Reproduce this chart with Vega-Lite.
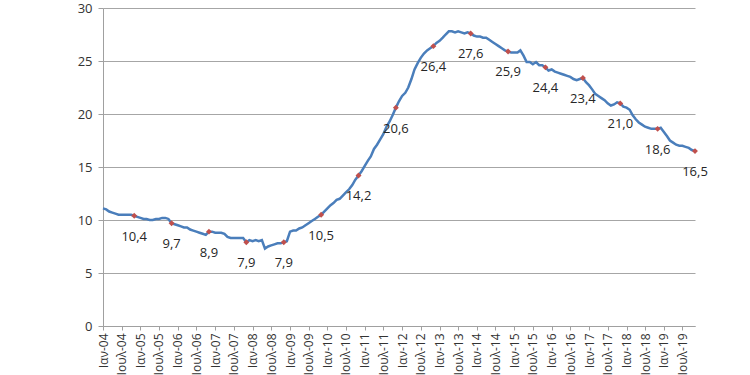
{
  "$schema": "https://vega.github.io/schema/vega-lite/v6.json",
  "width": 592,
  "height": 318,
  "autosize": {"type": "none"},
  "padding": {"left": 103, "top": 8, "right": 55, "bottom": 49},
  "background": "white",
  "config": {"view": {"stroke": null}, "font": "Open Sans"},
  "data": {"values": [
    {"date": "2004-01-01", "rate": 11.1}, {"date": "2004-02-01", "rate": 11.0}, {"date": "2004-03-01", "rate": 10.8}, {"date": "2004-04-01", "rate": 10.7}, {"date": "2004-05-01", "rate": 10.6}, {"date": "2004-06-01", "rate": 10.5}, {"date": "2004-07-01", "rate": 10.5}, {"date": "2004-08-01", "rate": 10.5}, {"date": "2004-09-01", "rate": 10.5}, {"date": "2004-10-01", "rate": 10.5}, {"date": "2004-11-01", "rate": 10.4, "label": "10,4"}, {"date": "2004-12-01", "rate": 10.3},
    {"date": "2005-01-01", "rate": 10.2}, {"date": "2005-02-01", "rate": 10.1}, {"date": "2005-03-01", "rate": 10.1}, {"date": "2005-04-01", "rate": 10.0}, {"date": "2005-05-01", "rate": 10.0}, {"date": "2005-06-01", "rate": 10.1}, {"date": "2005-07-01", "rate": 10.1}, {"date": "2005-08-01", "rate": 10.2}, {"date": "2005-09-01", "rate": 10.2}, {"date": "2005-10-01", "rate": 10.1}, {"date": "2005-11-01", "rate": 9.7, "label": "9,7"}, {"date": "2005-12-01", "rate": 9.6},
    {"date": "2006-01-01", "rate": 9.5}, {"date": "2006-02-01", "rate": 9.4}, {"date": "2006-03-01", "rate": 9.3}, {"date": "2006-04-01", "rate": 9.3}, {"date": "2006-05-01", "rate": 9.1}, {"date": "2006-06-01", "rate": 9.0}, {"date": "2006-07-01", "rate": 8.9}, {"date": "2006-08-01", "rate": 8.8}, {"date": "2006-09-01", "rate": 8.7}, {"date": "2006-10-01", "rate": 8.6}, {"date": "2006-11-01", "rate": 8.9, "label": "8,9"}, {"date": "2006-12-01", "rate": 8.9},
    {"date": "2007-01-01", "rate": 8.8}, {"date": "2007-02-01", "rate": 8.8}, {"date": "2007-03-01", "rate": 8.8}, {"date": "2007-04-01", "rate": 8.7}, {"date": "2007-05-01", "rate": 8.4}, {"date": "2007-06-01", "rate": 8.3}, {"date": "2007-07-01", "rate": 8.3}, {"date": "2007-08-01", "rate": 8.3}, {"date": "2007-09-01", "rate": 8.3}, {"date": "2007-10-01", "rate": 8.3}, {"date": "2007-11-01", "rate": 7.9, "label": "7,9"}, {"date": "2007-12-01", "rate": 8.1},
    {"date": "2008-01-01", "rate": 8.0}, {"date": "2008-02-01", "rate": 8.1}, {"date": "2008-03-01", "rate": 8.0}, {"date": "2008-04-01", "rate": 8.1}, {"date": "2008-05-01", "rate": 7.3}, {"date": "2008-06-01", "rate": 7.5}, {"date": "2008-07-01", "rate": 7.6}, {"date": "2008-08-01", "rate": 7.7}, {"date": "2008-09-01", "rate": 7.8}, {"date": "2008-10-01", "rate": 7.8}, {"date": "2008-11-01", "rate": 7.9, "label": "7,9"}, {"date": "2008-12-01", "rate": 8.0},
    {"date": "2009-01-01", "rate": 8.9}, {"date": "2009-02-01", "rate": 9.0}, {"date": "2009-03-01", "rate": 9.0}, {"date": "2009-04-01", "rate": 9.2}, {"date": "2009-05-01", "rate": 9.3}, {"date": "2009-06-01", "rate": 9.5}, {"date": "2009-07-01", "rate": 9.7}, {"date": "2009-08-01", "rate": 9.9}, {"date": "2009-09-01", "rate": 10.1}, {"date": "2009-10-01", "rate": 10.3}, {"date": "2009-11-01", "rate": 10.5, "label": "10,5"}, {"date": "2009-12-01", "rate": 10.8},
    {"date": "2010-01-01", "rate": 11.1}, {"date": "2010-02-01", "rate": 11.4}, {"date": "2010-03-01", "rate": 11.6}, {"date": "2010-04-01", "rate": 11.9}, {"date": "2010-05-01", "rate": 12.0}, {"date": "2010-06-01", "rate": 12.3}, {"date": "2010-07-01", "rate": 12.6}, {"date": "2010-08-01", "rate": 12.9}, {"date": "2010-09-01", "rate": 13.3}, {"date": "2010-10-01", "rate": 13.8}, {"date": "2010-11-01", "rate": 14.2, "label": "14,2"}, {"date": "2010-12-01", "rate": 14.6},
    {"date": "2011-01-01", "rate": 15.1}, {"date": "2011-02-01", "rate": 15.6}, {"date": "2011-03-01", "rate": 16.0}, {"date": "2011-04-01", "rate": 16.7}, {"date": "2011-05-01", "rate": 17.1}, {"date": "2011-06-01", "rate": 17.6}, {"date": "2011-07-01", "rate": 18.1}, {"date": "2011-08-01", "rate": 18.8}, {"date": "2011-09-01", "rate": 19.3}, {"date": "2011-10-01", "rate": 19.9}, {"date": "2011-11-01", "rate": 20.6, "label": "20,6"}, {"date": "2011-12-01", "rate": 21.2},
    {"date": "2012-01-01", "rate": 21.7}, {"date": "2012-02-01", "rate": 22.0}, {"date": "2012-03-01", "rate": 22.5}, {"date": "2012-04-01", "rate": 23.3}, {"date": "2012-05-01", "rate": 24.2}, {"date": "2012-06-01", "rate": 24.8}, {"date": "2012-07-01", "rate": 25.3}, {"date": "2012-08-01", "rate": 25.7}, {"date": "2012-09-01", "rate": 26.0}, {"date": "2012-10-01", "rate": 26.2}, {"date": "2012-11-01", "rate": 26.4, "label": "26,4"}, {"date": "2012-12-01", "rate": 26.7},
    {"date": "2013-01-01", "rate": 26.9}, {"date": "2013-02-01", "rate": 27.2}, {"date": "2013-03-01", "rate": 27.5}, {"date": "2013-04-01", "rate": 27.8}, {"date": "2013-05-01", "rate": 27.8}, {"date": "2013-06-01", "rate": 27.7}, {"date": "2013-07-01", "rate": 27.8}, {"date": "2013-08-01", "rate": 27.7}, {"date": "2013-09-01", "rate": 27.6}, {"date": "2013-10-01", "rate": 27.7}, {"date": "2013-11-01", "rate": 27.6, "label": "27,6"}, {"date": "2013-12-01", "rate": 27.4},
    {"date": "2014-01-01", "rate": 27.3}, {"date": "2014-02-01", "rate": 27.3}, {"date": "2014-03-01", "rate": 27.2}, {"date": "2014-04-01", "rate": 27.2}, {"date": "2014-05-01", "rate": 27.0}, {"date": "2014-06-01", "rate": 26.8}, {"date": "2014-07-01", "rate": 26.6}, {"date": "2014-08-01", "rate": 26.4}, {"date": "2014-09-01", "rate": 26.2}, {"date": "2014-10-01", "rate": 26.0}, {"date": "2014-11-01", "rate": 25.9, "label": "25,9"}, {"date": "2014-12-01", "rate": 25.8},
    {"date": "2015-01-01", "rate": 25.8}, {"date": "2015-02-01", "rate": 25.8}, {"date": "2015-03-01", "rate": 26.0}, {"date": "2015-04-01", "rate": 25.5}, {"date": "2015-05-01", "rate": 24.9}, {"date": "2015-06-01", "rate": 24.9}, {"date": "2015-07-01", "rate": 24.7}, {"date": "2015-08-01", "rate": 24.9}, {"date": "2015-09-01", "rate": 24.6}, {"date": "2015-10-01", "rate": 24.6}, {"date": "2015-11-01", "rate": 24.4, "label": "24,4"}, {"date": "2015-12-01", "rate": 24.1},
    {"date": "2016-01-01", "rate": 24.2}, {"date": "2016-02-01", "rate": 24.0}, {"date": "2016-03-01", "rate": 23.9}, {"date": "2016-04-01", "rate": 23.8}, {"date": "2016-05-01", "rate": 23.7}, {"date": "2016-06-01", "rate": 23.6}, {"date": "2016-07-01", "rate": 23.5}, {"date": "2016-08-01", "rate": 23.3}, {"date": "2016-09-01", "rate": 23.2}, {"date": "2016-10-01", "rate": 23.3}, {"date": "2016-11-01", "rate": 23.4, "label": "23,4"}, {"date": "2016-12-01", "rate": 23.0},
    {"date": "2017-01-01", "rate": 22.7}, {"date": "2017-02-01", "rate": 22.3}, {"date": "2017-03-01", "rate": 21.9}, {"date": "2017-04-01", "rate": 21.7}, {"date": "2017-05-01", "rate": 21.5}, {"date": "2017-06-01", "rate": 21.3}, {"date": "2017-07-01", "rate": 21.0}, {"date": "2017-08-01", "rate": 20.8}, {"date": "2017-09-01", "rate": 20.9}, {"date": "2017-10-01", "rate": 21.1}, {"date": "2017-11-01", "rate": 21.0, "label": "21,0"}, {"date": "2017-12-01", "rate": 20.7},
    {"date": "2018-01-01", "rate": 20.6}, {"date": "2018-02-01", "rate": 20.4}, {"date": "2018-03-01", "rate": 19.9}, {"date": "2018-04-01", "rate": 19.5}, {"date": "2018-05-01", "rate": 19.2}, {"date": "2018-06-01", "rate": 19.0}, {"date": "2018-07-01", "rate": 18.8}, {"date": "2018-08-01", "rate": 18.7}, {"date": "2018-09-01", "rate": 18.6}, {"date": "2018-10-01", "rate": 18.6}, {"date": "2018-11-01", "rate": 18.6, "label": "18,6"}, {"date": "2018-12-01", "rate": 18.7},
    {"date": "2019-01-01", "rate": 18.3}, {"date": "2019-02-01", "rate": 17.9}, {"date": "2019-03-01", "rate": 17.5}, {"date": "2019-04-01", "rate": 17.3}, {"date": "2019-05-01", "rate": 17.1}, {"date": "2019-06-01", "rate": 17.0}, {"date": "2019-07-01", "rate": 17.0}, {"date": "2019-08-01", "rate": 16.9}, {"date": "2019-09-01", "rate": 16.8}, {"date": "2019-10-01", "rate": 16.6}, {"date": "2019-11-01", "rate": 16.5, "label": "16,5"}
  ]},
  "encoding": {
    "x": {
      "field": "date", "type": "temporal",
      "scale": {"type": "utc", "domain": ["2004-01-01", "2019-11-01"], "nice": false},
      "axis": {
        "title": null, "grid": false,
        "tickCount": {"interval": "month", "step": 6},
        "labelExpr": "(utcmonth(datum.value) == 0 ? 'Ιαν-' : 'Ιουλ-') + utcFormat(datum.value, '%y')",
        "labelAngle": 270, "labelFontSize": 12, "labelColor": "#333333", "labelPadding": 3,
        "labelOverlap": false, "labelFlush": false,
        "domainColor": "#a0a0a0", "tickColor": "#a0a0a0", "tickSize": 4
      }
    },
    "y": {
      "field": "rate", "type": "quantitative",
      "scale": {"domain": [0, 30], "nice": false, "zero": true},
      "axis": {
        "title": null, "values": [0, 5, 10, 15, 20, 25, 30],
        "labelFontSize": 13, "labelColor": "#333333", "labelPadding": 6,
        "gridColor": "#a6a6a6", "gridWidth": 1,
        "domainColor": "#a0a0a0", "tickColor": "#a0a0a0", "tickSize": 5
      }
    }
  },
  "layer": [
    {"mark": {"type": "line", "color": "#4a7ebb", "strokeWidth": 2.5, "interpolate": "linear"}},
    {"transform": [{"filter": "datum.label != null"}],
     "mark": {"type": "point", "shape": "diamond", "filled": true, "color": "#c0504d", "size": 35, "opacity": 1}},
    {"transform": [{"filter": "datum.label != null"}],
     "mark": {"type": "text", "dy": 21, "fontSize": 13, "color": "#262626", "align": "center", "baseline": "middle"},
     "encoding": {"text": {"field": "label"}}}
  ]
}
